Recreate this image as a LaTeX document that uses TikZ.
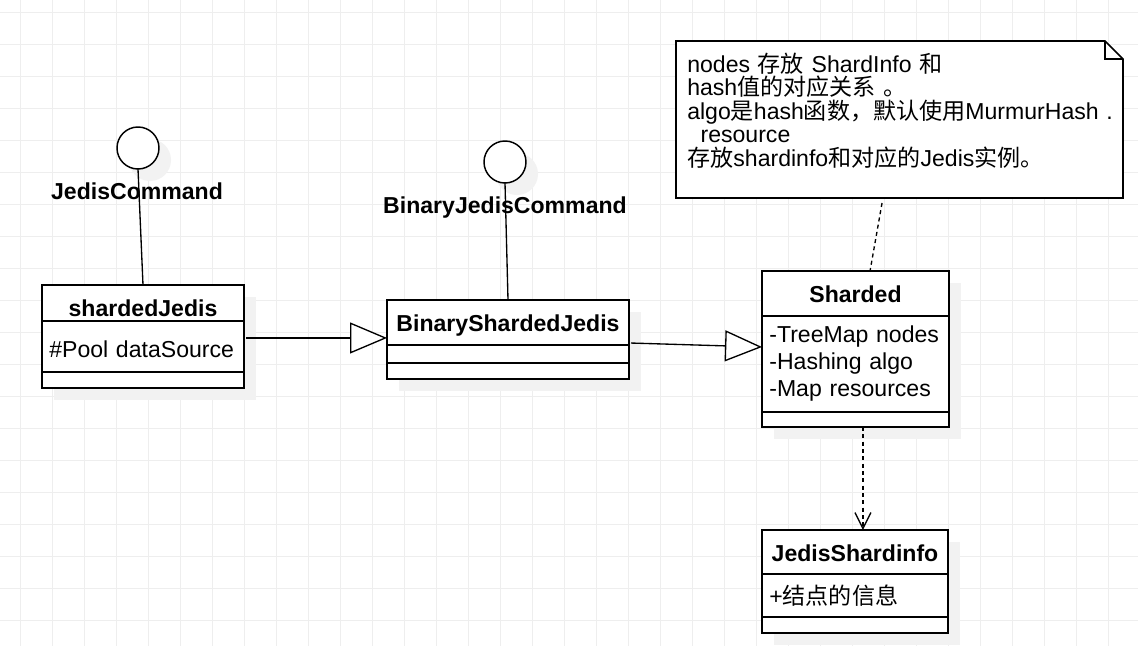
\documentclass[tikz,border=0pt]{standalone}
\usepackage{fontspec}
\setmainfont{Liberation Sans}
\newfontfamily\cjk{Noto Sans CJK SC}
\usetikzlibrary{arrows.meta,backgrounds,positioning}
\definecolor{gridgray}{HTML}{EEEEEE}
\definecolor{shadowgray}{HTML}{F2F2F2}

\begin{document}
\begin{tikzpicture}[x=0.75pt,y=-0.75pt,
  every node/.style={font=\fontsize{17.3}{20.25}\selectfont},
  umlbox/.style={draw,line width=1.5pt,fill=white,anchor=north west,outer sep=0pt,inner sep=0pt},
  umlhead/.style={umlbox,font=\fontsize{17.3}{20.25}\selectfont\bfseries,text height=23.25pt},
  umlattr/.style={umlbox,align=left,inner xsep=5.5pt},
  iface/.style={draw,circle,line width=1.1pt,fill=white,minimum size=31.5pt,inner sep=0pt,outer sep=0pt},
  ifacename/.style={font=\fontsize{17.3}{20.25}\selectfont\bfseries},
  ifaceline/.style={line width=1pt},
  genarrow/.style={line width=1pt,-{Triangle[length=27.75pt,width=23.25pt,fill=white]}},
  deparrow/.style={line width=1pt,dash pattern=on 3pt off 2.5pt,-{Straight Barb[length=12pt,width=12pt]}},
  noteline/.style={line width=1pt,dash pattern=on 3pt off 2.5pt},
  notebox/.style={anchor=north west,minimum width=335.25pt,minimum height=117.75pt,inner sep=0pt,outer sep=0pt},
  notefold/.style={line width=1.2pt},
  notetext/.style={anchor=north west,inner sep=0pt,align=left,text width=330pt,font=\fontsize{17.3}{17.6}\selectfont},
  gridline/.style={gridgray,line width=0.75pt},
  boxshadow/.style={fill=shadowgray}]
\useasboundingbox (0,0) rectangle (1138,646);

% interfaces
\node[iface] (jc) at (138,148) {};
\node[ifacename] (jcname) at (137,191) {JedisCommand};
\node[iface] (bjc) at (505,162) {};
\node[ifacename] (bjcname) at (505,207.5) {BinaryJedisCommand};

% shardedJedis
\node[umlhead,minimum width=151.5pt,minimum height=27pt,text depth=3.75pt] (sjhead) at (42,285) {shardedJedis};
\node[umlattr,minimum width=151.5pt,minimum height=38.25pt,text width=140.5pt,text height=16pt,text depth=0pt] (sjattr) at (sjhead.south west) {\#Pool dataSource};
\node[umlbox,minimum width=151.5pt,minimum height=12pt] (sjops) at (sjattr.south west) {};

% BinaryShardedJedis
\node[umlhead,minimum width=181.5pt,minimum height=33.75pt,text depth=10.5pt] (bsjhead) at (387,300) {BinaryShardedJedis};
\node[umlbox,minimum width=181.5pt,minimum height=13.5pt] (bsjattr) at (bsjhead.south west) {};
\node[umlbox,minimum width=181.5pt,minimum height=12pt] (bsjops) at (bsjattr.south west) {};

% Sharded
\node[umlhead,minimum width=140.25pt,minimum height=33.75pt,text depth=10.5pt] (shhead) at (762,271) {Sharded};
\node[umlattr,minimum width=140.25pt,minimum height=72pt,text width=129.25pt] (shattr) at (shhead.south west) {-TreeMap nodes\\-Hashing algo\\-Map resources};
\node[umlbox,minimum width=140.25pt,minimum height=11.25pt] (shops) at (shattr.south west) {};

% JedisShardinfo
\node[umlhead,minimum width=139.5pt,minimum height=33pt,text depth=9.75pt] (jsihead) at (762,530) {JedisShardinfo};
\node[umlattr,minimum width=139.5pt,minimum height=32.25pt,text width=128.5pt] (jsiattr) at (jsihead.south west) {+{\cjk 结点的信息}};
\node[umlbox,minimum width=139.5pt,minimum height=12pt] (jsiops) at (jsiattr.south west) {};

% note
\node[notebox] (note) at (676,41) {};
\draw[notefold,fill=white] (note.north west) -- ([xshift=-13.5pt]note.north east) -- ([yshift=-13.5pt]note.north east) -- (note.south east) -- (note.south west) -- cycle;
\draw[notefold] ([xshift=-13.5pt]note.north east) |- ([yshift=-13.5pt]note.north east);
\node[notetext] (notetxt) at (687,52.5) {nodes {\cjk 存放} ShardInfo {\cjk 和}\\
hash{\cjk 值的对应关系} {\cjk 。}\\
algo{\cjk 是}hash{\cjk 函数，默认使用}MurmurHash .\\
\hspace*{10pt}resource\\
{\cjk 存放}shardinfo{\cjk 和对应的}Jedis{\cjk 实例。}};

% connectors
\draw[ifaceline] (jc.south) -- (sjhead.north);
\draw[ifaceline] (bjc.south) -- (bsjhead.north);
\draw[genarrow] ([xshift=1.5pt,yshift=6.4pt]sjattr.east) -- ([yshift=6.4pt]sjattr.east -| bsjhead.west);
\draw[genarrow] ([xshift=1.5pt,yshift=-15.4pt]bsjhead.east) -- ([yshift=12.75pt]shattr.west);
\draw[deparrow] ([xshift=5.6pt]shops.south) -- ([xshift=5.6pt]shops.south |- jsihead.north);
\draw[noteline] ([xshift=-13.1pt,yshift=-3.75pt]note.south) -- ([xshift=10.9pt]shhead.north);

% grid and shadows
\begin{scope}[on background layer]
\fill[white] (0,0) rectangle (1138,646);
\foreach \k in {0,...,34} \draw[gridline] (20.5+32*\k,0) -- (20.5+32*\k,646);
\foreach \k in {0,...,19} \draw[gridline] (0,12.3+32*\k) -- (1138,12.3+32*\k);
\fill[boxshadow] ([shift={(12,12)}]sjhead.north west) rectangle ([shift={(12,12)}]sjops.south east);
\fill[boxshadow] ([shift={(12,12)}]bsjhead.north west) rectangle ([shift={(12,12)}]bsjops.south east);
\fill[boxshadow] ([shift={(12,12)}]shhead.north west) rectangle ([shift={(12,12)}]shops.south east);
\fill[boxshadow] ([shift={(12,12)}]jsihead.north west) rectangle ([shift={(12,12)}]jsiops.south east);
\fill[boxshadow] ([shift={(12,12)}]jc.center) circle[radius=15.75pt];
\fill[boxshadow] ([shift={(12,12)}]bjc.center) circle[radius=15.75pt];
\end{scope}
\end{tikzpicture}
\end{document}
